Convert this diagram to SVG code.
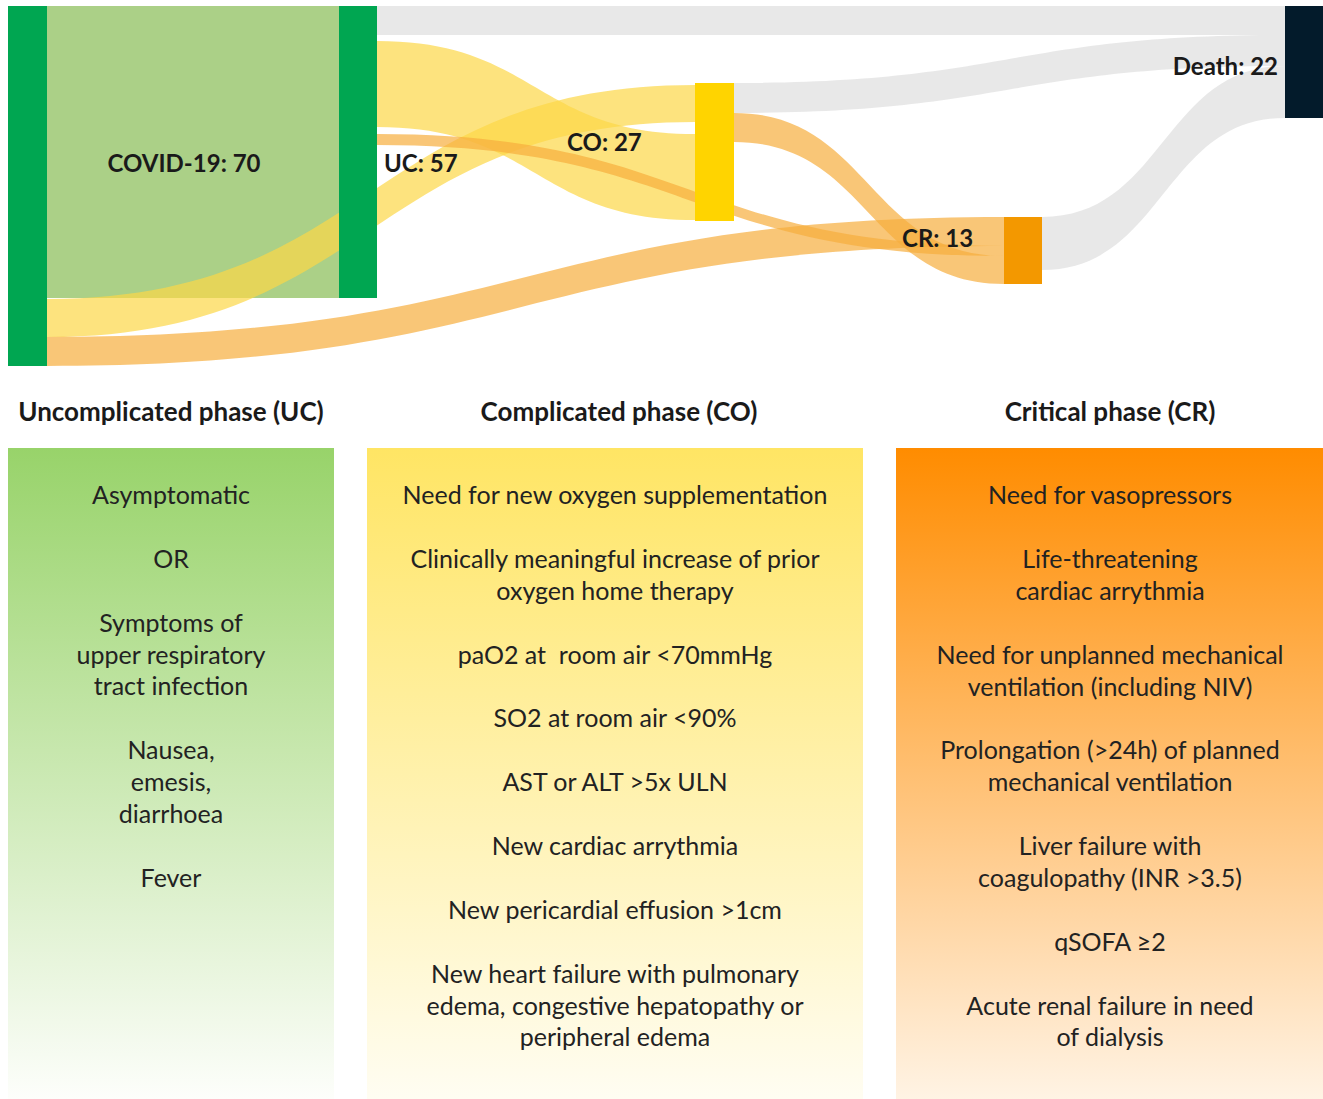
<svg xmlns="http://www.w3.org/2000/svg" width="1323" height="1099" viewBox="0 0 1323 1099">
<style>
.lbl{font-family:Lato,"Source Sans Pro","Liberation Sans",sans-serif;font-weight:700;font-size:24px;fill:#1a1a1a}
.hd{font-family:Lato,"Source Sans Pro","Liberation Sans",sans-serif;font-weight:700;font-size:26px;fill:#1a1a1a;text-anchor:middle}
.tx{font-family:Lato,"Source Sans Pro","Liberation Sans",sans-serif;font-size:25px;fill:#222;text-anchor:middle}
.lg{fill:#88bc54;fill-opacity:0.7}
.ly{fill:#fcd747;fill-opacity:0.7}
.lo{fill:#f6ae3d;fill-opacity:0.7}
.lr{fill:#dedede;fill-opacity:0.7}
</style>
<defs>
<linearGradient id="gUC" x1="0" y1="0" x2="0" y2="1"><stop offset="0" stop-color="#98d36a"/><stop offset="1" stop-color="#fdfefb"/></linearGradient>
<linearGradient id="gCO" x1="0" y1="0" x2="0" y2="1"><stop offset="0" stop-color="#ffe564"/><stop offset="1" stop-color="#fffdf2"/></linearGradient>
<linearGradient id="gCR" x1="0" y1="0" x2="0" y2="1"><stop offset="0" stop-color="#ff8c00"/><stop offset="1" stop-color="#fff3e4"/></linearGradient>
</defs>
<rect width="1323" height="1099" fill="#fff"/>
<g id="links">
<path class="lg" d="M47,6 L339,6 L339,298 L47,298 Z"/>
<path class="lr" d="M377,6 L1285,6 L1285,35 L377,35 Z"/>
<path class="ly" d="M47,299 C371,299 371,85 695,85 L695,122 C371,122 371,337 47,337 Z"/>
<path class="lo" d="M47,337 C525.5,337 525.5,217 1004,217 L1004,246 C525.5,246 525.5,366 47,366 Z"/>
<path class="ly" d="M377,41 C536,41 536,134 695,134 L695,220 C536,220 536,127 377,127 Z"/>
<path class="lo" d="M377,134 C690.5,134 690.5,246 1004,246 L1004,256 C690.5,256 690.5,145 377,145 Z"/>
<path class="lr" d="M734,83 C1009.5,83 1009.5,35 1285,35 L1285,66 C1009.5,66 1009.5,113 734,113 Z"/>
<path class="lo" d="M734,113 C869,113 869,256 1004,256 L1004,284 C869,284 869,142 734,142 Z"/>
<path class="lr" d="M1042,217 C1163.5,217 1163.5,66 1285,66 L1285,118 C1163.5,118 1163.5,270 1042,270 Z"/>
</g>
<g id="node-covid"><rect x="8" y="6" width="39" height="360" fill="#00a651"/><text class="lbl" x="184" y="172" text-anchor="middle">COVID-19: 70</text></g>
<g id="node-uc"><rect x="339" y="6" width="38" height="292" fill="#00a651"/><text class="lbl" x="384" y="172">UC: 57</text></g>
<g id="node-co"><rect x="695" y="83" width="39" height="138" fill="#ffd400"/><text class="lbl" x="567" y="151">CO: 27</text></g>
<g id="node-cr"><rect x="1004" y="217" width="38" height="67" fill="#f39800"/><text class="lbl" x="902" y="247">CR: 13</text></g>
<g id="node-death"><rect x="1285" y="6" width="38" height="112" fill="#031b2b"/><text class="lbl" x="1278" y="75" text-anchor="end">Death: 22</text></g>
<g id="panel-uc">
<text class="hd" x="171" y="421">Uncomplicated phase (UC)</text>
<rect x="8" y="448" width="326" height="651" fill="url(#gUC)"/>
<text class="tx" x="171" y="504">Asymptomatic</text>
<text class="tx" x="171" y="568">OR</text>
<text class="tx" x="171" y="632">Symptoms of</text>
<text class="tx" x="171" y="664">upper respiratory</text>
<text class="tx" x="171" y="695">tract infection</text>
<text class="tx" x="171" y="759">Nausea,</text>
<text class="tx" x="171" y="791">emesis,</text>
<text class="tx" x="171" y="823">diarrhoea</text>
<text class="tx" x="171" y="887">Fever</text>
</g>
<g id="panel-co">
<text class="hd" x="619" y="421">Complicated phase (CO)</text>
<rect x="367" y="448" width="496" height="651" fill="url(#gCO)"/>
<text class="tx" x="615" y="504">Need for new oxygen supplementation</text>
<text class="tx" x="615" y="568">Clinically meaningful increase of prior</text>
<text class="tx" x="615" y="600">oxygen home therapy</text>
<text class="tx" x="615" y="664">paO2 at&#160; room air &lt;70mmHg</text>
<text class="tx" x="615" y="727">SO2 at room air &lt;90%</text>
<text class="tx" x="615" y="791">AST or ALT &gt;5x ULN</text>
<text class="tx" x="615" y="855">New cardiac arrythmia</text>
<text class="tx" x="615" y="919">New pericardial effusion &gt;1cm</text>
<text class="tx" x="615" y="983">New heart failure with pulmonary</text>
<text class="tx" x="615" y="1015">edema, congestive hepatopathy or</text>
<text class="tx" x="615" y="1046">peripheral edema</text>
</g>
<g id="panel-cr">
<text class="hd" x="1110" y="421">Critical phase (CR)</text>
<rect x="896" y="448" width="427" height="651" fill="url(#gCR)"/>
<text class="tx" x="1110" y="504">Need for vasopressors</text>
<text class="tx" x="1110" y="568">Life-threatening</text>
<text class="tx" x="1110" y="600">cardiac arrythmia</text>
<text class="tx" x="1110" y="664">Need for unplanned mechanical</text>
<text class="tx" x="1110" y="696">ventilation (including NIV)</text>
<text class="tx" x="1110" y="759">Prolongation (&gt;24h) of planned</text>
<text class="tx" x="1110" y="791">mechanical ventilation</text>
<text class="tx" x="1110" y="855">Liver failure with</text>
<text class="tx" x="1110" y="887">coagulopathy (INR &gt;3.5)</text>
<text class="tx" x="1110" y="951">qSOFA ≥2</text>
<text class="tx" x="1110" y="1015">Acute renal failure in need</text>
<text class="tx" x="1110" y="1046">of dialysis</text>
</g>
</svg>
